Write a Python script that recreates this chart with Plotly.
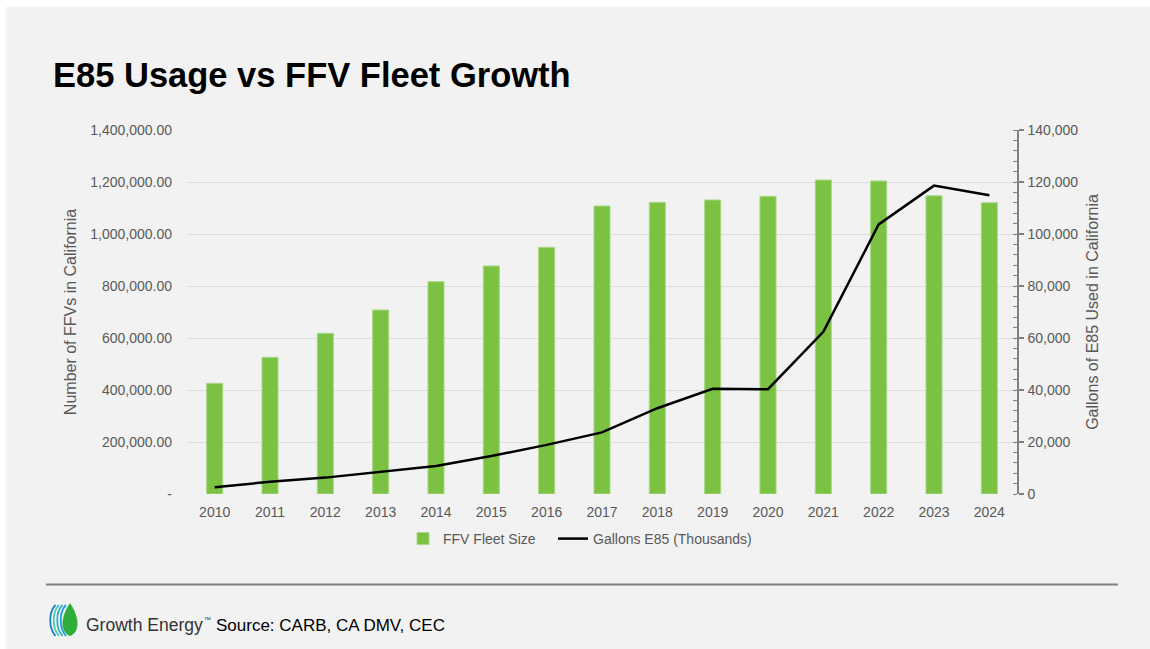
import plotly.graph_objects as go

years = [str(y) for y in range(2010, 2025)]
ffv_fleet = [425600, 525600, 618000, 707700, 816700, 877000, 948700, 1107700,
             1121800, 1130800, 1145000, 1207700, 1203800, 1147000, 1120000]
gallons_e85 = [2600, 4700, 6300, 8600, 10800, 14600, 18900, 23700,
               33000, 40500, 40300, 62400, 103700, 118600, 114900]
left_tickvals = [0, 200000, 400000, 600000, 800000, 1000000, 1200000, 1400000]
left_ticktext = ["-", "200,000.00", "400,000.00", "600,000.00", "800,000.00",
                 "1,000,000.00", "1,200,000.00", "1,400,000.00"]

W_PX, H_PX = 1150, 649
L, R, T, B = 187, 1017, 130, 494
PW, PH = R - L, B - T


def px(x):
    return (x - L) / PW


def py(y):
    return (B - y) / PH


BG = "#f2f2f2"
GREEN = "#7bc142"
TXT = "#595959"

fig = go.Figure()
fig.add_trace(go.Bar(
    x=years, y=ffv_fleet, name="FFV Fleet Size",
    marker=dict(color=GREEN, line=dict(color="#a9d886", width=1)),
    yaxis="y", legend="legend",
))
fig.add_trace(go.Scatter(
    x=years, y=gallons_e85, name="Gallons E85 (Thousands)",
    mode="lines", line=dict(color="#000000", width=2.5),
    yaxis="y2", legend="legend2",
))

shapes = []
# white border at top and left
shapes.append(dict(type="rect", xref="paper", yref="paper", x0=px(-5), x1=px(5.5),
                   y0=py(-5), y1=py(660), fillcolor="white", line=dict(width=0), layer="below"))
shapes.append(dict(type="rect", xref="paper", yref="paper", x0=px(-5), x1=px(1160),
                   y0=py(-5), y1=py(7), fillcolor="white", line=dict(width=0), layer="below"))
# bottom separator line
shapes.append(dict(type="line", xref="paper", yref="paper", x0=px(46), x1=px(1118),
                   y0=py(584.5), y1=py(584.5), line=dict(color="#7f7f7f", width=2)))


def path(points, close=False):
    s = ""
    for cmd, coords in points:
        s += cmd
        vals = []
        for j in range(0, len(coords), 2):
            vals.append(f"{px(coords[j]):.5f},{py(coords[j+1]):.5f}")
        s += " ".join(vals) + " "
    if close:
        s += "Z"
    return s


# logo leaf
leaf = path([("M", (70, 636)), ("C", (60, 632, 60, 618, 70, 603)),
             ("C", (80, 618, 80, 632, 70, 636))], close=True)
shapes.append(dict(type="path", xref="paper", yref="paper", path=leaf,
                   fillcolor="#2fae3a", line=dict(width=0)))
# logo arcs
arc_colors = ["#1f9fd6", "#2bb3c8", "#5cc6b8", "#1e7fc2"]
for i, c in enumerate(arc_colors):
    x0 = 62 - i * 3.5
    p = path([("M", (x0 + 4, 605)), ("C", (x0 - 3, 612, x0 - 3, 628, x0 + 4, 636))])
    shapes.append(dict(type="path", xref="paper", yref="paper", path=p,
                       line=dict(color=c, width=1.8)))

annotations = [
    dict(text="<b>E85 Usage vs FFV Fleet Growth</b>", xref="paper", yref="paper",
         x=px(51), y=py(75), xanchor="left", yanchor="middle", showarrow=False,
         font=dict(family="Liberation Sans, Arial", size=34.5, color="#000000")),
    dict(text="Growth Energy", xref="paper", yref="paper",
         x=px(84), y=py(625), xanchor="left", yanchor="middle", showarrow=False,
         font=dict(family="Liberation Sans, Arial", size=17.5, color="#333333")),
    dict(text="™", xref="paper", yref="paper",
         x=px(202), y=py(619), xanchor="left", yanchor="middle", showarrow=False,
         font=dict(family="Liberation Sans, Arial", size=7, color="#333333")),
    dict(text="Source: CARB, CA DMV, CEC", xref="paper", yref="paper",
         x=px(214), y=py(625), xanchor="left", yanchor="middle", showarrow=False,
         font=dict(family="Liberation Sans, Arial", size=17, color="#000000")),
]

legend_common = dict(orientation="h", yanchor="middle", xanchor="left",
                     bgcolor="rgba(0,0,0,0)", font=dict(size=14, color=TXT),
                     itemwidth=30)

fig.update_layout(
    width=W_PX, height=H_PX,
    margin=dict(l=L, r=W_PX - R, t=T, b=H_PX - B, autoexpand=False),
    paper_bgcolor=BG, plot_bgcolor=BG,
    font=dict(family="Liberation Sans, Arial", size=14, color=TXT),
    bargap=0.71,
    showlegend=True,
    legend=dict(x=px(403), y=py(539), **legend_common),
    legend2=dict(x=px(553), y=py(539), **legend_common),
    xaxis=dict(type="category", showgrid=False, zeroline=False, showline=False,
               ticks="", ticklabelstandoff=8, tickfont=dict(size=14, color=TXT)),
    yaxis=dict(range=[0, 1400000], tickvals=left_tickvals, ticktext=left_ticktext,
               showgrid=True, gridcolor="#dcdcdc", gridwidth=1, zeroline=False,
               showline=False, ticks="", ticklabelstandoff=14,
               tickfont=dict(size=14, color=TXT),
               title=dict(text="Number of FFVs in California", standoff=9,
                          font=dict(size=16, color=TXT))),
    yaxis2=dict(range=[0, 140000], overlaying="y", side="right", dtick=20000,
                tickformat=",d", showgrid=False, zeroline=False,
                showline=True, linecolor="#808080", linewidth=1.5,
                ticks="outside", ticklen=5, tickcolor="#808080", tickwidth=1.5,
                minor=dict(dtick=4000, ticks="inside", ticklen=4, tickcolor="#808080", tickwidth=1),
                ticklabelstandoff=1,
                tickfont=dict(size=14, color=TXT),
                title=dict(text="Gallons of E85 Used in California", standoff=9,
                           font=dict(size=16, color=TXT))),
    shapes=shapes,
    annotations=annotations,
)

fig.write_html(
    "out.html",
    config={"displayModeBar": False},
    post_script="document.body.style.margin='0';document.body.style.padding='0';"
                "document.body.style.overflow='hidden';",
)
